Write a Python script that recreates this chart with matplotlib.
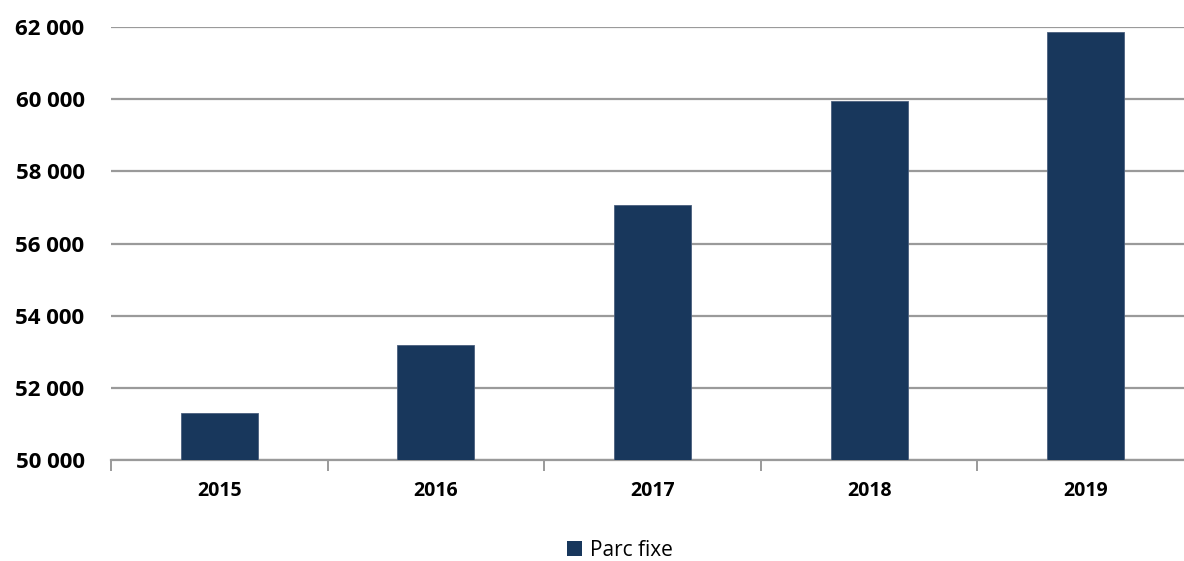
import matplotlib.pyplot as plt
from matplotlib.ticker import FuncFormatter
from matplotlib.patches import Patch

plt.rcParams['font.family'] = ['Open Sans', 'DejaVu Sans']

years = ["2015", "2016", "2017", "2018", "2019"]
parc_fixe = [51300, 53200, 57060, 59950, 61850]

bar_color = "#18375c"
grid_color = "#9a9a9a"

fig = plt.figure(figsize=(11.84, 5.61), dpi=100)
# plot area in pixels: left 111, bottom 460 (from top), top 27; right edge runs off the canvas
ax = fig.add_axes([111 / 1184, 1 - 460 / 561, 1 - 111 / 1184, (460 - 27) / 561])

x = list(range(len(years)))
ax.bar(x, [v - 50000 for v in parc_fixe], bottom=50000, width=0.356,
       color=bar_color, edgecolor="#4a5f7e", linewidth=0.6, zorder=3)

ax.set_yticks(range(50000, 62001, 2000))
ax.yaxis.set_major_formatter(FuncFormatter(lambda v, p: f"{int(v):,}".replace(",", " ")))
ax.grid(axis="y", color=grid_color, linewidth=1.6, zorder=0)

for s in ["top", "right", "left"]:
    ax.spines[s].set_visible(False)
ax.spines["bottom"].set_color(grid_color)
ax.spines["bottom"].set_linewidth(1.6)

# category boundaries carry the tick marks, labels sit in between
ax.set_xticks([i - 0.5 for i in range(len(years) + 1)], minor=False)
ax.set_xticklabels([])
ax.tick_params(axis="x", which="major", length=8, width=1.4, color=grid_color, direction="out")
ax.set_xticks(x, minor=True)
ax.set_xticklabels(years, minor=True, fontsize=14, fontweight="bold")
ax.tick_params(axis="x", which="minor", length=0, pad=15)
ax.tick_params(axis="y", length=0, pad=19, labelsize=16, width=0)
for lbl in ax.get_yticklabels():
    lbl.set_fontweight("bold")

# limits last, so the boundary ticks do not widen the view
ax.set_ylim(50000, 62000)
ax.set_xlim(-0.5, (1184 - 111) / 216.6 - 0.5)

fig.legend(handles=[Patch(facecolor=bar_color, label="Parc fixe")],
           loc="center", bbox_to_anchor=(620 / 1184, 1 - 550 / 561),
           frameon=False, fontsize=15, handlelength=0.7, handleheight=0.7,
           handletextpad=0.4)

fig.savefig("out.png", dpi=100)
